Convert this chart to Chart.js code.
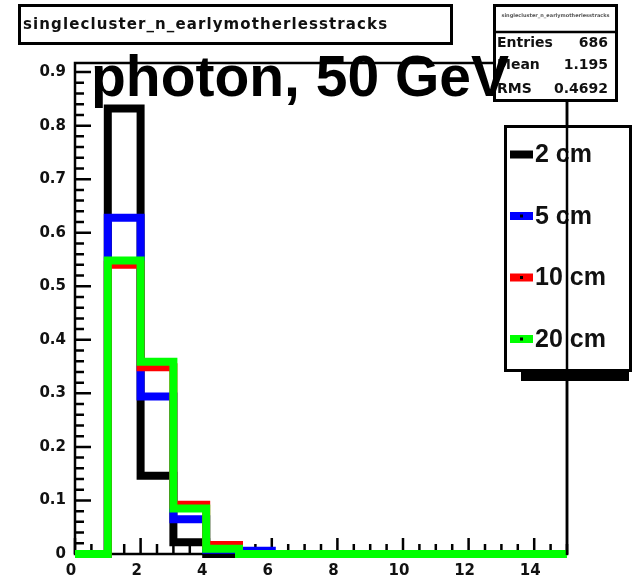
<!DOCTYPE html>
<html><head><meta charset="utf-8">
<script src="https://cdn.jsdelivr.net/npm/chart.js@4.4.1/dist/chart.umd.min.js"></script>
<style>
html,body{margin:0;padding:0;background:#fff;}
#wrap{position:relative;width:636px;height:588px;overflow:hidden;background:#fff;}
#c{position:absolute;left:0;top:0;}
#ov{position:absolute;left:0;top:0;}
</style></head><body>
<div id="wrap"><canvas id="c" width="636" height="588"></canvas>
<svg id="ov" width="636" height="588" xmlns="http://www.w3.org/2000/svg"></svg></div>
<script>
// ---------------- data ----------------
const histName = 'singlecluster_n_earlymotherlesstracks';
const plotTitle = 'photon, 50 GeV';
const binLowEdges = [0,1,2,3,4,5,6,7,8,9,10,11,12,13,14];
const xUpper = 15;
const xTicks = [0,2,4,6,8,10,12,14];
const yTicks = [0,0.1,0.2,0.3,0.4,0.5,0.6,0.7,0.8,0.9];
const yMax = 0.917;
const seriesNames = ['2 cm','5 cm','10 cm','20 cm'];
const frac2cm  = [0,0.832,0.146,0.022,0,0,0,0,0,0,0,0,0,0,0];
const frac5cm  = [0,0.628,0.294,0.065,0.008,0.006,0,0,0,0,0,0,0,0,0];
const frac10cm = [0,0.540,0.349,0.092,0.017,0,0,0,0,0,0,0,0,0,0];
const frac20cm = [0,0.548,0.359,0.085,0.010,0,0,0,0,0,0,0,0,0,0];
const statNames = ['Entries','Mean','RMS'];
const statValues = ['686','1.195','0.4692'];

// ---------------- styles ----------------
const colors = ['#000000','#0000ff','#ff0000','#00ff00'];
const seriesValues = [frac2cm, frac5cm, frac10cm, frac20cm];
const steps = vals => binLowEdges.map((x,i)=>({x:x, y:vals[i]})).concat([{x:xUpper, y:vals[vals.length-1]}]);

const rootFrame = {
  id:'rootFrame',
  beforeDatasetsDraw(chart){
    const {ctx, chartArea:a, scales:{x, y}} = chart;
    ctx.save();
    ctx.strokeStyle = '#000';
    ctx.lineWidth = 2.5;
    ctx.strokeRect(a.left, a.top, a.right - a.left, a.bottom - a.top);
    ctx.beginPath();
    // x ticks (inward), minor every 0.5, major every 2
    for (let k = 0; k * 0.5 <= x.max + 1e-9; k++) {
      const v = k * 0.5;
      const px = x.getPixelForValue(v);
      const len = (k % 4 === 0) ? 16 : 10;
      ctx.moveTo(px, a.bottom); ctx.lineTo(px, a.bottom - len);
    }
    // y ticks (inward), minor every 0.02, major every 0.1
    for (let k = 0; k * 0.02 <= y.max + 1e-9; k++) {
      const py = y.getPixelForValue(k * 0.02);
      const len = (k % 5 === 0) ? 16 : 9;
      ctx.moveTo(a.left, py); ctx.lineTo(a.left + len, py);
    }
    ctx.stroke();
    ctx.restore();
  }
};

const tickFont = {family:"'DejaVu Sans'", weight:'bold', size:15};

new Chart(document.getElementById('c'), {
  type:'line',
  data:{
    datasets: seriesValues.map((vals,i)=>({
      label: seriesNames[i],
      data: steps(vals),
      borderColor: colors[i],
      backgroundColor: colors[i],
      borderWidth: 8,
      stepped: true,
      pointRadius: 0,
      fill: false,
      clip: false,
      borderJoinStyle: 'miter',
      borderCapStyle: 'butt',
      order: 4 - i
    }))
  },
  options:{
    responsive:false,
    animation:false,
    devicePixelRatio:1,
    layout:{padding:{left:0, top:63, right:69, bottom:0}},
    plugins:{legend:{display:false}, tooltip:{enabled:false}, title:{display:false}},
    scales:{
      x:{
        type:'linear', min:0, max:xUpper,
        grid:{display:false, drawTicks:false},
        border:{display:false},
        afterBuildTicks: s => { s.ticks = xTicks.map(v=>({value:v})); },
        afterFit: s => { s.height = 34; },
        ticks:{font:tickFont, color:'#111', padding:8, labelOffset:-4, maxRotation:0, autoSkip:false,
               callback: v => String(v)}
      },
      y:{
        type:'linear', min:0, max:yMax,
        grid:{display:false, drawTicks:false},
        border:{display:false},
        afterBuildTicks: s => { s.ticks = yTicks.map(v=>({value:v})); },
        afterFit: s => { s.width = 75; },
        ticks:{font:tickFont, color:'#111', padding:9, autoSkip:false,
               callback: v => (v === 0 ? '0' : String(v))}
      }
    }
  },
  plugins:[rootFrame]
});

// ---------------- overlay (boxes, titles, legend) ----------------
const NS = 'http://www.w3.org/2000/svg';
const svg = document.getElementById('ov');
function el(tag, attrs, text){
  const e = document.createElementNS(NS, tag);
  for (const k in attrs) e.setAttribute(k, attrs[k]);
  if (text !== undefined) e.textContent = text;
  svg.appendChild(e);
  return e;
}
// histogram name box
el('rect',{x:19.5,y:5.5,width:432,height:38,fill:'#fff',stroke:'#000','stroke-width':3});
el('text',{x:23,y:29,'font-family':'DejaVu Sans','font-weight':'bold','font-size':15,'letter-spacing':1.1,fill:'#111'}, histName);
// stats box
el('rect',{x:494.5,y:5.5,width:122,height:95,fill:'#fff',stroke:'#000','stroke-width':3});
el('line',{x1:493,y1:32,x2:618,y2:32,stroke:'#000','stroke-width':2.5});
el('text',{x:555.5,y:17,'text-anchor':'middle','font-family':'DejaVu Sans','font-weight':'bold','font-size':5,fill:'#555'}, histName);
const statBase = [47, 68.5, 93];
statNames.forEach((n,i)=>{
  el('text',{x:497,y:statBase[i],'font-family':'DejaVu Sans','font-weight':'bold','font-size':14,fill:'#111'}, n);
  el('text',{x:608,y:statBase[i],'text-anchor':'end','font-family':'DejaVu Sans','font-weight':'bold','font-size':14,fill:'#111'}, statValues[i]);
});
// big title
el('text',{x:91,y:96,'font-family':'Liberation Sans','font-weight':'bold','font-size':57,fill:'#000'}, plotTitle);
// legend
el('rect',{x:521,y:372,width:108,height:9,fill:'#000'});
el('rect',{x:505.5,y:126.5,width:125,height:244,fill:'#fff',stroke:'#000','stroke-width':3});
seriesNames.forEach((n,i)=>{
  const yc = 154.5 + i*61.5;
  el('rect',{x:510,y:yc-4,width:23,height:8,fill:colors[i]});
  if (i>0) el('rect',{x:520,y:yc-1.5,width:3,height:3,fill:'#000'});
  el('text',{x:535,y:yc+7.5,'font-family':'Liberation Sans','font-weight':'bold','font-size':25,fill:'#111'}, n);
});
// frame right edge drawn over the legend
el('line',{x1:567,y1:102,x2:567,y2:555,stroke:'#000','stroke-width':2.5});
</script>
</body></html>
